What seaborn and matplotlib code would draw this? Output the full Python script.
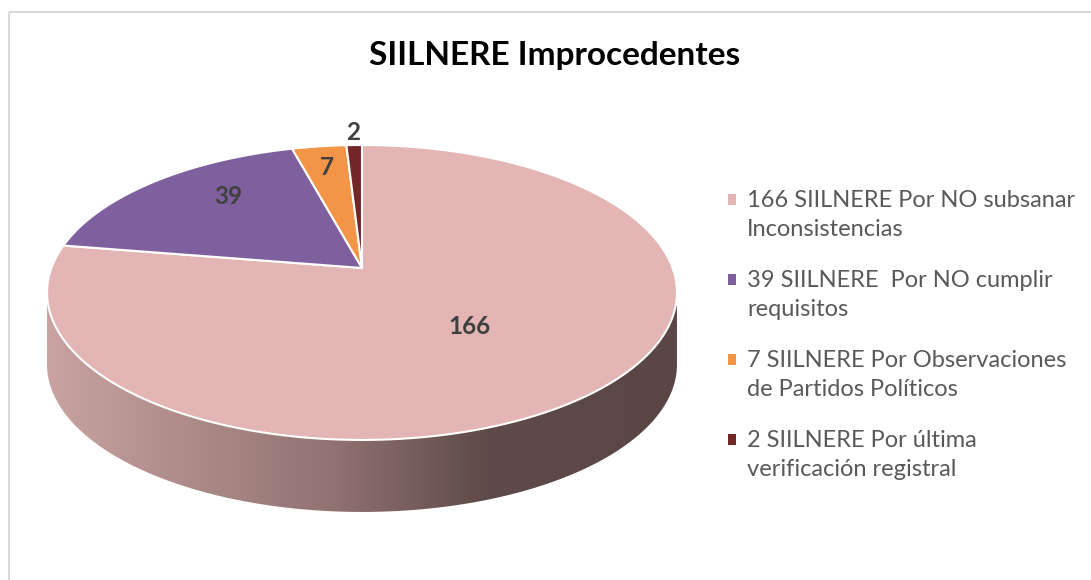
import numpy as np
import matplotlib
matplotlib.use("Agg")
import matplotlib.pyplot as plt
import seaborn as sns
from matplotlib.patches import Polygon, Rectangle
from matplotlib.colors import LinearSegmentedColormap
from matplotlib.legend_handler import HandlerPatch

# data
values = [166, 39, 7, 2]
labels = [
    "166 SIILNERE Por NO subsanar\nInconsistencias",
    "39 SIILNERE  Por NO cumplir\nrequisitos",
    "7 SIILNERE Por Observaciones\nde Partidos Políticos",
    "2 SIILNERE Por última\nverificación registral",
]
colors = ["#e3b6b5", "#7f609f", "#f29547", "#722626"]
title = "SIILNERE Improcedentes"

# label placement inside each slice (fraction of slice span, radius)
label_frac = [0.5, 0.61, 0.5, 0.5]
label_r = [0.5, 0.72, 0.8, 1.12]

sns.set_style("white")
plt.rcParams["font.family"] = ["Lato", "DejaVu Sans"]

LEG_FS = 17
LEG_LS = 1.48

fig = plt.figure(figsize=(10.91, 5.80), dpi=100)
ax = fig.add_axes([0, 0, 1, 1])
ax.set_xlim(0, 1091)
ax.set_ylim(580, 0)
ax.axis("off")

# chart border
ax.add_patch(Rectangle((8.5, 11.5), 1200, 700, fill=False, edgecolor="#d9d9d9", lw=1.5))

# perspective pie geometry (pixels)
CX, CY = 362, 268
A, H, K = 310.6, 143.4, 0.166
DEPTH = 72


def project(u, w):
    d = 1 + K * w
    return CX + A * u / d, CY - H * w / d


def arc(p0, p1, r=1.0, n=200):
    phi = np.radians(np.linspace(p0, p1, n))
    return project(r * np.sin(phi), r * np.cos(phi))


total = sum(values)
ends = np.cumsum(values) / total * 360
starts = np.concatenate([[0], ends[:-1]])

# side of the cylinder (front half)
phi_r = np.degrees(np.arctan2(np.sqrt(1 - K ** 2), -K))
phi_l = 360 - phi_r
tx, ty = arc(phi_r, phi_l)
side_x = np.concatenate([tx, tx[::-1]])
side_y = np.concatenate([ty, ty[::-1] + DEPTH])
side = Polygon(np.column_stack([side_x, side_y]), closed=True, facecolor="none", edgecolor="none")
ax.add_patch(side)
cmap = LinearSegmentedColormap.from_list(
    "side", [(0, "#c8a3a2"), (0.45, "#927371"), (0.7, "#5e4a48"), (1, "#5a4644")])
grad = np.linspace(0, 1, 256).reshape(1, -1)
im = ax.imshow(grad, cmap=cmap, aspect="auto",
               extent=[side_x.min(), side_x.max(), side_y.max(), side_y.min()], zorder=1)
im.set_clip_path(side)
ax.set_xlim(0, 1091)
ax.set_ylim(580, 0)

# top face slices
handles = []
for s, e, c in zip(starts, ends, colors):
    ax_, ay_ = arc(s, e)
    px = np.concatenate([[CX], ax_])
    py = np.concatenate([[CY], ay_])
    ax.fill(px, py, facecolor=c, edgecolor="white", lw=1.5, zorder=2)
    handles.append(Rectangle((0, 0), 1, 1, facecolor=c, edgecolor="none"))

# value labels
for v, s, e, f, r in zip(values, starts, ends, label_frac, label_r):
    phi = np.radians(s + f * (e - s))
    x, y = project(r * np.sin(phi), r * np.cos(phi))
    ax.text(x, y, str(v), ha="center", va="center", fontsize=17.5,
            fontweight="bold", color="#404040", zorder=3)

# title
ax.text(555, 56, title, ha="center", va="center", fontsize=24,
        fontweight="bold", color="black")


class FirstLineSquare(HandlerPatch):
    # put the square next to the first line of a two-line label
    def create_artists(self, legend, orig_handle, xdescent, ydescent,
                       width, height, fontsize, trans):
        shift = 11.2
        p = Rectangle((-xdescent, -ydescent + shift), width, height,
                      facecolor=orig_handle.get_facecolor(), edgecolor="none",
                      transform=trans)
        return [p]


leg = ax.legend(handles, labels, loc="upper left", bbox_to_anchor=(728 / 1091, 1 - 190 / 580),
                frameon=False, fontsize=LEG_FS, handlelength=0.32, handleheight=0.32,
                handletextpad=0.5, labelspacing=1.26, borderaxespad=0, borderpad=0,
                handler_map={Rectangle: FirstLineSquare()})
for t in leg.get_texts():
    t.set_color("#595959")
    t.set_linespacing(LEG_LS)

fig.savefig("out.png", dpi=100)
